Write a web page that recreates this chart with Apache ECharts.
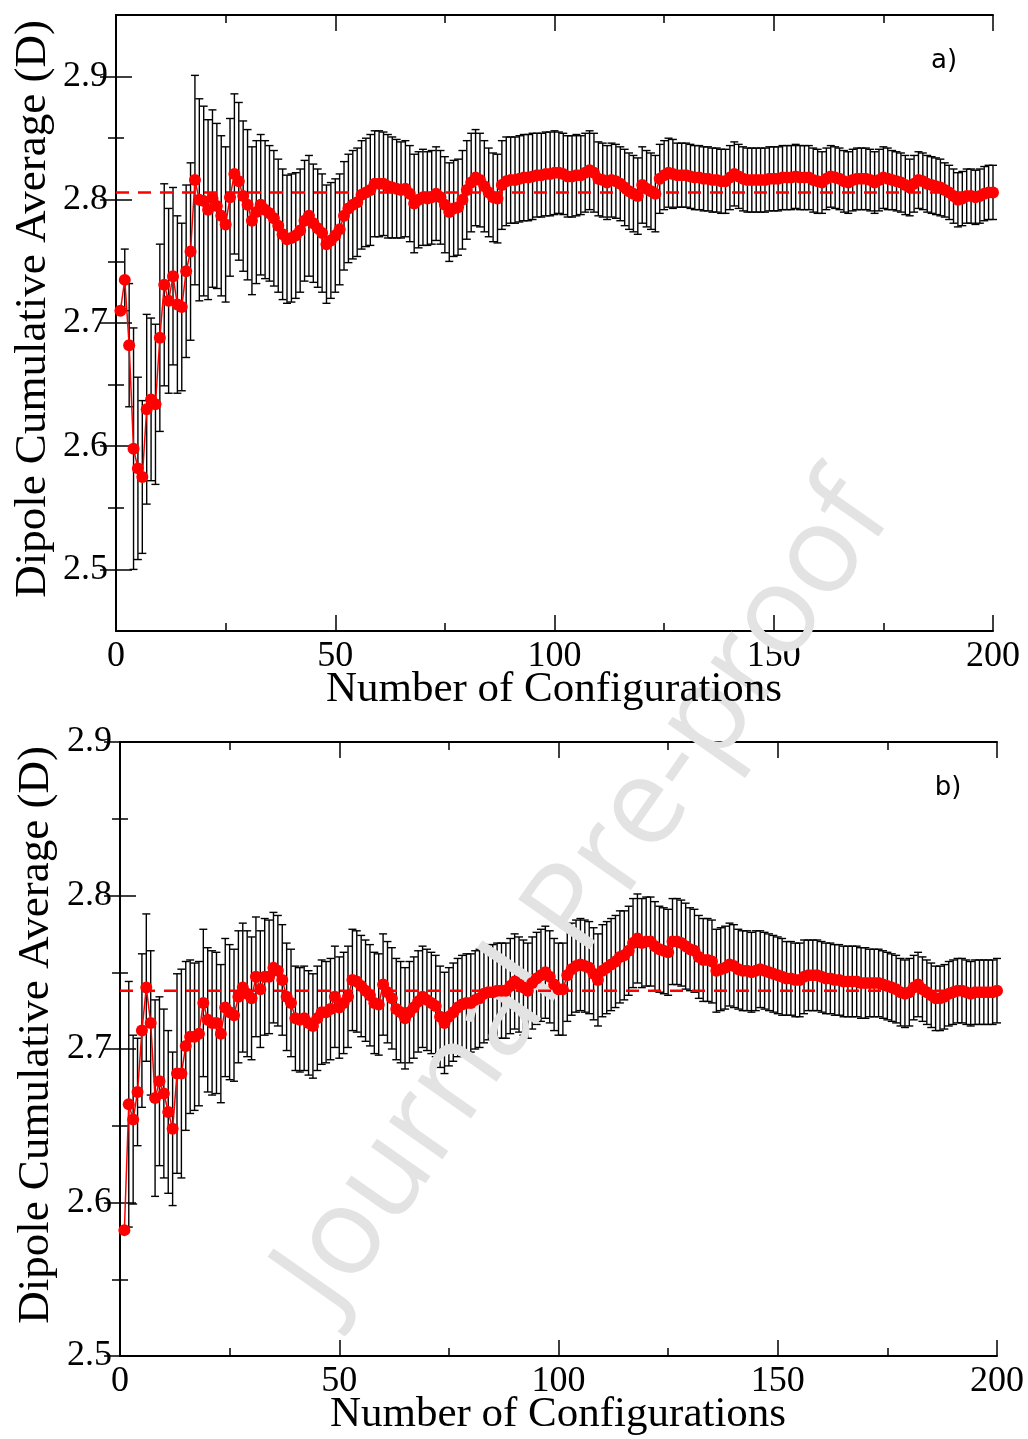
<!DOCTYPE html>
<html><head><meta charset="utf-8">
<script src="https://cdn.jsdelivr.net/npm/echarts@6/dist/echarts.min.js"></script>
<style>html,body{margin:0;padding:0;background:#fff}#c{width:1028px;height:1439px}</style>
</head><body><div id="c"></div>
<script>
// ---------- DATA ----------
const configs = Array.from({length: 200}, (_, i) => i + 1);

const meanA = [
2.710,2.735,2.682,2.598,2.582,2.575,2.630,2.638,2.634,2.688,
2.731,2.718,2.738,2.715,2.713,2.742,2.758,2.816,2.800,2.799,
2.792,2.801,2.795,2.787,2.780,2.802,2.821,2.815,2.803,2.796,
2.783,2.790,2.796,2.792,2.789,2.785,2.779,2.772,2.768,2.769,
2.771,2.775,2.783,2.787,2.781,2.777,2.773,2.764,2.767,2.771,
2.776,2.787,2.793,2.796,2.798,2.804,2.806,2.808,2.813,2.813,
2.813,2.811,2.810,2.809,2.808,2.809,2.805,2.797,2.800,2.802,
2.801,2.802,2.805,2.802,2.796,2.790,2.793,2.794,2.800,2.808,
2.814,2.818,2.816,2.811,2.806,2.802,2.801,2.812,2.815,2.816,
2.816,2.817,2.818,2.818,2.819,2.820,2.820,2.821,2.821,2.822,
2.822,2.821,2.819,2.819,2.820,2.820,2.822,2.824,2.822,2.817,
2.816,2.814,2.816,2.815,2.813,2.810,2.807,2.805,2.803,2.812,
2.809,2.807,2.805,2.817,2.820,2.822,2.821,2.820,2.820,2.820,
2.819,2.818,2.818,2.817,2.817,2.816,2.816,2.815,2.815,2.818,
2.821,2.819,2.817,2.816,2.816,2.816,2.816,2.816,2.817,2.817,
2.817,2.818,2.818,2.818,2.819,2.818,2.818,2.818,2.816,2.815,
2.814,2.817,2.819,2.818,2.817,2.815,2.814,2.816,2.817,2.817,
2.817,2.816,2.814,2.816,2.818,2.817,2.816,2.815,2.814,2.812,
2.810,2.813,2.816,2.815,2.813,2.812,2.811,2.810,2.808,2.806,
2.803,2.800,2.801,2.803,2.803,2.802,2.803,2.805,2.806,2.806
];
const errA = [
0,0.025,0.050,0.098,0.074,0.062,0.077,0.066,0.065,0.076,
0.082,0.075,0.072,0.072,0.068,0.070,0.072,0.085,0.082,0.077,
0.073,0.072,0.067,0.065,0.063,0.064,0.065,0.064,0.061,0.061,
0.060,0.058,0.057,0.056,0.055,0.055,0.054,0.053,0.052,0.052,
0.051,0.050,0.049,0.049,0.048,0.048,0.048,0.048,0.047,0.046,
0.045,0.044,0.044,0.044,0.044,0.044,0.044,0.045,0.043,0.043,
0.042,0.042,0.041,0.040,0.039,0.039,0.039,0.040,0.039,0.039,
0.038,0.038,0.038,0.038,0.039,0.040,0.039,0.039,0.040,0.040,
0.040,0.039,0.038,0.037,0.036,0.036,0.036,0.036,0.036,0.035,
0.035,0.035,0.035,0.035,0.035,0.034,0.034,0.034,0.034,0.034,
0.033,0.033,0.033,0.033,0.033,0.032,0.032,0.032,0.032,0.030,
0.030,0.030,0.030,0.030,0.030,0.031,0.031,0.031,0.031,0.031,
0.031,0.031,0.031,0.028,0.028,0.028,0.028,0.026,0.026,0.026,
0.026,0.026,0.026,0.026,0.026,0.026,0.026,0.026,0.026,0.026,
0.026,0.026,0.026,0.026,0.026,0.026,0.026,0.026,0.026,0.026,
0.026,0.026,0.026,0.026,0.026,0.026,0.026,0.026,0.026,0.026,
0.025,0.025,0.025,0.025,0.025,0.025,0.025,0.025,0.025,0.025,
0.025,0.025,0.025,0.025,0.025,0.025,0.024,0.024,0.024,0.024,
0.023,0.023,0.023,0.023,0.023,0.023,0.023,0.023,0.022,0.022,
0.022,0.022,0.022,0.022,0.022,0.022,0.022,0.022,0.022,0.022
];
const refA = 2.806;

const meanB = [
2.582,2.664,2.654,2.672,2.712,2.740,2.717,2.668,2.679,2.671,
2.659,2.648,2.684,2.684,2.702,2.708,2.708,2.710,2.730,2.719,
2.717,2.717,2.710,2.727,2.724,2.722,2.734,2.740,2.736,2.733,
2.747,2.739,2.747,2.747,2.753,2.751,2.745,2.734,2.730,2.720,
2.719,2.720,2.717,2.715,2.720,2.724,2.724,2.726,2.734,2.727,
2.730,2.734,2.745,2.744,2.741,2.738,2.735,2.730,2.729,2.742,
2.737,2.733,2.726,2.724,2.720,2.724,2.727,2.731,2.734,2.732,
2.730,2.728,2.721,2.717,2.721,2.724,2.727,2.729,2.730,2.730,
2.732,2.733,2.736,2.737,2.737,2.738,2.738,2.738,2.741,2.744,
2.742,2.740,2.738,2.743,2.746,2.748,2.750,2.747,2.742,2.739,
2.739,2.748,2.752,2.754,2.755,2.754,2.753,2.749,2.745,2.751,
2.753,2.755,2.757,2.760,2.761,2.764,2.769,2.772,2.769,2.770,
2.770,2.767,2.765,2.764,2.763,2.770,2.770,2.769,2.767,2.765,
2.764,2.760,2.758,2.758,2.757,2.751,2.752,2.753,2.755,2.754,
2.752,2.751,2.751,2.750,2.751,2.752,2.751,2.750,2.749,2.748,
2.747,2.746,2.746,2.745,2.745,2.747,2.748,2.748,2.748,2.747,
2.746,2.746,2.745,2.745,2.744,2.744,2.744,2.744,2.743,2.743,
2.743,2.743,2.743,2.742,2.741,2.740,2.739,2.737,2.736,2.737,
2.740,2.742,2.739,2.737,2.735,2.733,2.733,2.734,2.736,2.737,
2.738,2.738,2.737,2.736,2.737,2.737,2.737,2.737,2.737,2.738
];
const errB = [
0,0.080,0.055,0.035,0.050,0.048,0.047,0.064,0.055,0.055,
0.053,0.050,0.065,0.068,0.055,0.050,0.048,0.047,0.048,0.047,
0.047,0.046,0.045,0.045,0.044,0.043,0.043,0.042,0.041,0.040,
0.039,0.038,0.038,0.037,0.036,0.036,0.036,0.035,0.035,0.034,
0.034,0.034,0.034,0.034,0.034,0.034,0.033,0.033,0.033,0.033,
0.033,0.033,0.033,0.033,0.033,0.033,0.033,0.033,0.033,0.033,
0.033,0.033,0.033,0.033,0.033,0.033,0.033,0.033,0.033,0.033,
0.033,0.033,0.033,0.033,0.032,0.032,0.032,0.032,0.032,0.032,
0.032,0.032,0.032,0.031,0.031,0.031,0.031,0.031,0.031,0.031,
0.031,0.031,0.031,0.030,0.030,0.030,0.030,0.030,0.030,0.030,
0.030,0.030,0.030,0.030,0.030,0.030,0.030,0.030,0.030,0.030,
0.030,0.030,0.030,0.030,0.029,0.029,0.029,0.029,0.029,0.029,
0.029,0.029,0.028,0.028,0.028,0.028,0.028,0.028,0.028,0.027,
0.027,0.027,0.027,0.027,0.027,0.027,0.027,0.027,0.027,0.027,
0.026,0.026,0.026,0.026,0.026,0.025,0.025,0.025,0.025,0.025,
0.025,0.024,0.024,0.024,0.024,0.024,0.023,0.023,0.023,0.023,
0.023,0.023,0.023,0.023,0.023,0.023,0.023,0.023,0.023,0.023,
0.022,0.022,0.022,0.022,0.022,0.022,0.022,0.022,0.022,0.022,
0.021,0.021,0.021,0.021,0.021,0.021,0.021,0.021,0.021,0.021,
0.021,0.021,0.021,0.021,0.021,0.021,0.021,0.021,0.021,0.021
];
const refB = 2.738;

const xTicks = [0, 50, 100, 150, 200];
const xMinor = [25, 75, 125, 175];
const yTicks = [2.5, 2.6, 2.7, 2.8, 2.9];
const yMinorA = [2.55, 2.65, 2.75, 2.85];
const yMinorB = [2.55, 2.65, 2.75, 2.85];

const xTitle = 'Number of Configurations';
const yTitle = 'Dipole Cumulative Average (D)';
const panelLabels = ['a)', 'b)'];
const watermark = 'Journal Pre-proof';

// ---------- STYLE ----------
const SERIF = 'Liberation Serif';
const BLACK = '#000';
const RED = '#ff0000';
const labelStyle = {color: BLACK, fontFamily: SERIF, fontSize: 36};
const tickLine = {color: BLACK, width: 1.5};

function xAxisDef(grid, pos, ticks, len, withLine, withLabels) {
  return {
    type: 'value', gridIndex: grid, position: pos, min: 0, max: 200,
    axisLine: {show: withLine, lineStyle: {color: BLACK, width: 2}},
    axisTick: {show: true, inside: true, length: len, customValues: ticks, lineStyle: tickLine},
    axisLabel: Object.assign({show: withLabels, margin: 8, customValues: ticks}, labelStyle),
    splitLine: {show: false}
  };
}
function yAxisDef(grid, pos, min, max, ticks, len, withLine, withLabels) {
  return {
    type: 'value', gridIndex: grid, position: pos, min: min, max: max,
    axisLine: {show: withLine, lineStyle: {color: BLACK, width: 2}},
    axisTick: {show: true, inside: true, length: len, customValues: ticks, lineStyle: tickLine},
    axisLabel: Object.assign({show: withLabels, margin: 8, customValues: ticks,
      formatter: v => Number(v).toFixed(1)}, labelStyle),
    splitLine: {show: false}
  };
}

function errRender(params, api) {
  const x = api.value(0), m = api.value(1), e = api.value(2);
  if (!(e > 0)) return null;
  const top = api.coord([x, m + e]);
  const bot = api.coord([x, m - e]);
  const hw = 4;
  const style = {stroke: '#000', lineWidth: 1.4};
  return {type: 'group', children: [
    {type: 'line', shape: {x1: top[0], y1: top[1], x2: bot[0], y2: bot[1]}, style: style},
    {type: 'line', shape: {x1: top[0] - hw, y1: top[1], x2: top[0] + hw, y2: top[1]}, style: style},
    {type: 'line', shape: {x1: bot[0] - hw, y1: bot[1], x2: bot[0] + hw, y2: bot[1]}, style: style}
  ]};
}

const gridA = {left: 116, top: 15, width: 877, height: 616};
const gridB = {left: 120, top: 742, width: 877, height: 614};

const chart = echarts.init(document.getElementById('c'), null, {renderer: 'canvas'});
chart.setOption({
  animation: false,
  backgroundColor: '#fff',
  grid: [
    Object.assign({containLabel: false}, gridA),   // 0 panel a
    Object.assign({containLabel: false}, gridB),   // 1 panel b
    Object.assign({containLabel: false}, gridA),   // 2 panel a minor ticks
    Object.assign({containLabel: false}, gridB)    // 3 panel b minor ticks
  ],
  xAxis: [
    xAxisDef(0, 'bottom', xTicks, 16, true, true),
    xAxisDef(0, 'top', xTicks, 16, true, false),
    xAxisDef(1, 'bottom', xTicks, 16, true, true),
    xAxisDef(1, 'top', xTicks, 16, true, false),
    xAxisDef(2, 'bottom', xMinor, 8, false, false),
    xAxisDef(2, 'top', xMinor, 8, false, false),
    xAxisDef(3, 'bottom', xMinor, 8, false, false),
    xAxisDef(3, 'top', xMinor, 8, false, false)
  ],
  yAxis: [
    yAxisDef(0, 'left', 2.45, 2.95, yTicks, 16, true, true),
    yAxisDef(0, 'right', 2.45, 2.95, yTicks, 16, true, false),
    yAxisDef(1, 'left', 2.5, 2.9, yTicks, 16, true, true),
    yAxisDef(1, 'right', 2.5, 2.9, yTicks, 16, true, false),
    yAxisDef(2, 'left', 2.45, 2.95, yMinorA, 8, false, false),
    yAxisDef(2, 'right', 2.45, 2.95, yMinorA, 8, false, false),
    yAxisDef(3, 'left', 2.5, 2.9, yMinorB, 8, false, false),
    yAxisDef(3, 'right', 2.5, 2.9, yMinorB, 8, false, false)
  ],
  graphic: [
    {type: 'text', x: 585, y: 895, rotation: 55 * Math.PI / 180, z: 3, silent: true,
     style: {text: watermark, fontFamily: 'Open Sans', fontSize: 122, fill: '#e3e3e3', align: 'center', verticalAlign: 'middle'}},
    {type: 'text', x: 554, y: 690, z: 10,
     style: {text: xTitle, fontFamily: SERIF, fontSize: 43, fill: BLACK, align: 'center', verticalAlign: 'middle'}},
    {type: 'text', x: 558, y: 1415, z: 10,
     style: {text: xTitle, fontFamily: SERIF, fontSize: 43, fill: BLACK, align: 'center', verticalAlign: 'middle'}},
    {type: 'text', x: 33, y: 309, rotation: Math.PI / 2, z: 10,
     style: {text: yTitle, fontFamily: SERIF, fontSize: 45, fill: BLACK, align: 'center', verticalAlign: 'middle'}},
    {type: 'text', x: 36, y: 1035, rotation: Math.PI / 2, z: 10,
     style: {text: yTitle, fontFamily: SERIF, fontSize: 45, fill: BLACK, align: 'center', verticalAlign: 'middle'}},
    {type: 'text', x: 944, y: 61, z: 10,
     style: {text: panelLabels[0], fontFamily: 'DejaVu Sans', fontSize: 26, fill: BLACK, align: 'center', verticalAlign: 'middle'}},
    {type: 'text', x: 948, y: 788, z: 10,
     style: {text: panelLabels[1], fontFamily: 'DejaVu Sans', fontSize: 26, fill: BLACK, align: 'center', verticalAlign: 'middle'}}
  ],
  series: [
    {type: 'custom', xAxisIndex: 0, yAxisIndex: 0, z: 2, clip: false,
     renderItem: errRender, encode: {x: 0, y: 1},
     data: configs.map((c, i) => [c, meanA[i], errA[i]])},
    {type: 'line', xAxisIndex: 0, yAxisIndex: 0, z: 4, symbol: 'none', silent: true,
     lineStyle: {color: RED, width: 2.5, type: [13, 9]},
     data: [[0, refA], [200, refA]]},
    {type: 'line', xAxisIndex: 0, yAxisIndex: 0, z: 5, clip: false,
     symbol: 'circle', symbolSize: 12,
     itemStyle: {color: RED}, lineStyle: {color: RED, width: 1.5},
     data: configs.map((c, i) => [c, meanA[i]])},
    {type: 'custom', xAxisIndex: 2, yAxisIndex: 2, z: 2, clip: false,
     renderItem: errRender, encode: {x: 0, y: 1},
     data: configs.map((c, i) => [c, meanB[i], errB[i]])},
    {type: 'line', xAxisIndex: 2, yAxisIndex: 2, z: 4, symbol: 'none', silent: true,
     lineStyle: {color: RED, width: 2.5, type: [13, 9]},
     data: [[0, refB], [200, refB]]},
    {type: 'line', xAxisIndex: 2, yAxisIndex: 2, z: 5, clip: false,
     symbol: 'circle', symbolSize: 12,
     itemStyle: {color: RED}, lineStyle: {color: RED, width: 1.5},
     data: configs.map((c, i) => [c, meanB[i]])}
  ]
});
</script>
</body></html>
